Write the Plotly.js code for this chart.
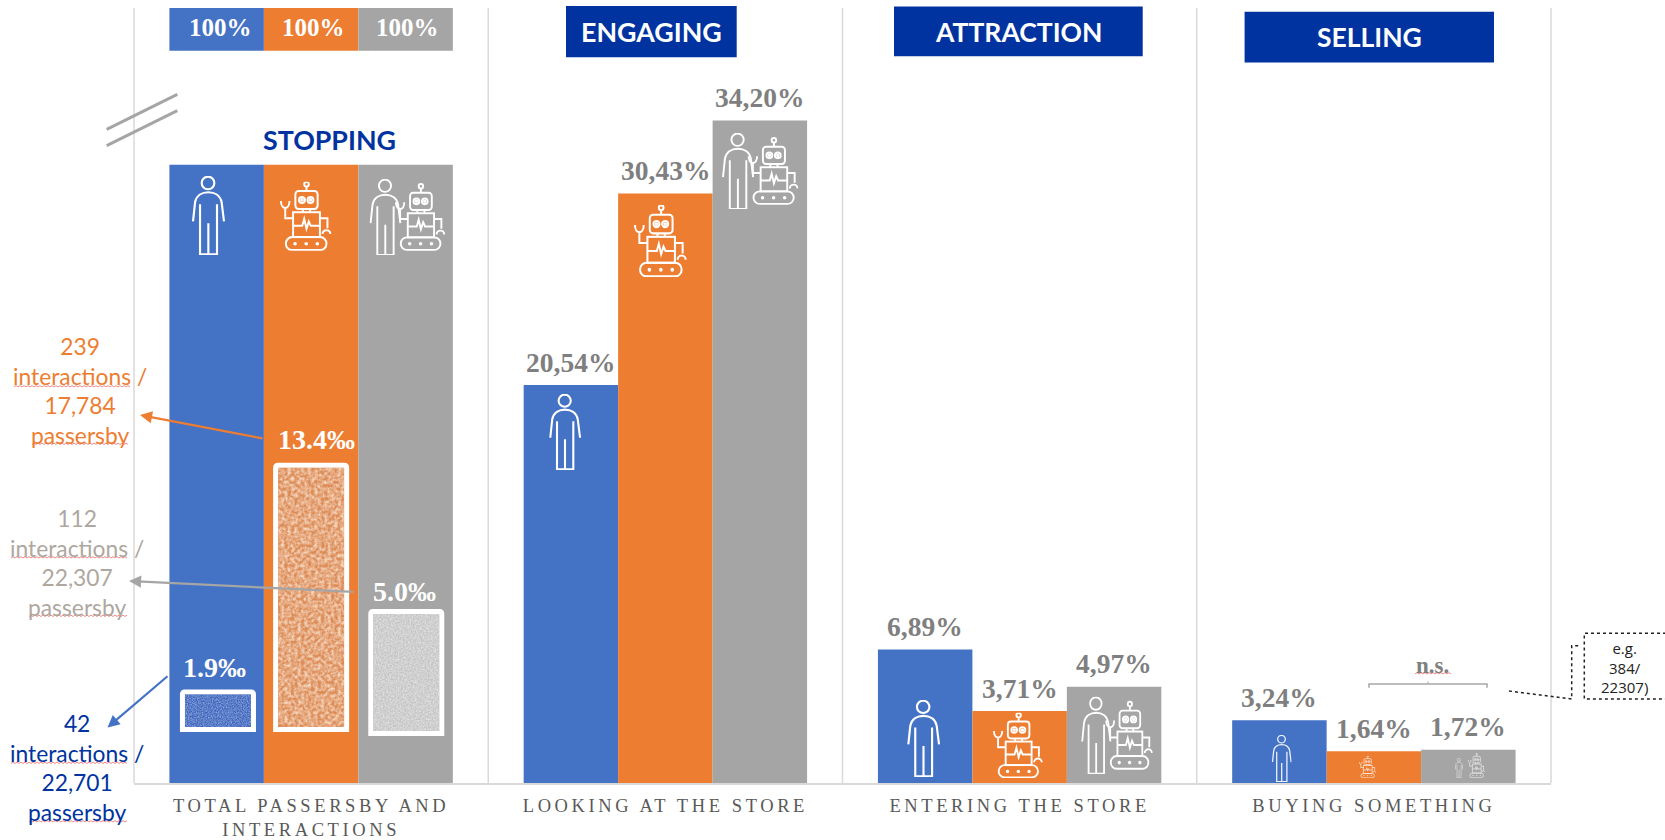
<!DOCTYPE html>
<html>
<head>
<meta charset="utf-8">
<script src="https://cdn.plot.ly/plotly-3.0.1.min.js"></script>
<style>
  html, body { margin: 0; padding: 0; background: #fff; overflow: hidden; }
  #chart { width: 1665px; height: 840px; }
  .xtick text { letter-spacing: 3.6px; }
</style>
</head>
<body>
<div id="chart"></div>
<script>
// Funnel stages and the share of each group reaching them (percent).
const stages = ['TOTAL PASSERSBY AND<br>INTERACTIONS', 'LOOKING AT THE STORE', 'ENTERING THE STORE', 'BUYING SOMETHING'];
const humanShare = [100, 20.54, 6.89, 3.24];
const robotShare = [100, 30.43, 3.71, 1.64];
const mixedShare = [100, 34.20, 4.97, 1.72];

// Interaction rates per thousand passersby.
const humanRate = 1.9;
const robotRate = 13.4;
const mixedRate = 5.0;

const humanNote = '42<br>interactions /<br>22,701<br>passersby';
const robotNote = '239<br>interactions /<br>17,784<br>passersby';
const mixedNote = '112<br>interactions /<br>22,307<br>passersby';
const calloutText = 'e.g.<br>384/<br>22307)';

const BLUE = '#4472C4', ORANGE = '#ED7D31', GREY = '#A5A5A5', NAVY = '#0033A0';
const SERIF = '"Liberation Serif", "Times New Roman", serif';
const SANS = 'Lato, "Open Sans", sans-serif';

// Plot frame in page pixels.
const W = 1665, H = 840, L = 134, R = 114, T = 8, B = 57;
const plotW = W - L - R, plotH = H - T - B;
const px = x => (x - L) / plotW;
const py = y => (H - B - y) / plotH;
const stageW = plotW / 4;
const stageX = x => (x - L) / stageW - 0.5;

// Line icons, white on the bars.
const personSvg = `<circle cx="49" cy="21" r="19"/><path d="M25 85V236H76V85M50 142V236M4 137L10 80C14 58 32 49 50 49S86 58 90 80L97 137"/>`;
const robotSvg = `<circle cx="81" cy="8" r="7"/><path d="M81 15V28M70 82V92M92 82V92"/><rect x="47" y="28" width="68" height="54" rx="10"/><circle cx="67" cy="55" r="9"/><circle cx="93" cy="55" r="9"/><circle cx="67" cy="55" r="2.5"/><circle cx="93" cy="55" r="2.5"/><rect x="40" y="92" width="82" height="75"/><path d="M40 133H68L74 112L81 142L88 120L94 133H122M40 110H16V80M3 58C3 86 29 86 29 58M122 110H145V140M130 158A12 12 0 1 1 154 158"/><rect x="18" y="167" width="124" height="39" rx="19"/><circle cx="46" cy="187" r="2.5" fill="#fff"/><circle cx="80" cy="187" r="2.5" fill="#fff"/><circle cx="114" cy="187" r="2.5" fill="#fff"/>`;
const comboSvg = `<g transform="scale(.96)">${personSvg}</g><g transform="translate(77 14) scale(.96)">${robotSvg}</g>`;

function svgUri(body, vw, vh, sw) {
  const s = `<svg xmlns="http://www.w3.org/2000/svg" width="${vw}" height="${vh}" viewBox="0 0 ${vw} ${vh}" preserveAspectRatio="none"><g fill="none" stroke="#fff" stroke-width="${sw}">${body}</g></svg>`;
  return 'data:image/svg+xml,' + encodeURIComponent(s);
}

// Soft mottled fill for the rate boxes.
function noiseUri(w, h, base, speck, freq, gain, blur) {
  const c = speck.map(v => (v / 255).toFixed(3));
  const s = `<svg xmlns="http://www.w3.org/2000/svg" width="${w}" height="${h}" viewBox="0 0 ${w} ${h}"><filter id="n" x="0" y="0" width="100%" height="100%"><feTurbulence type="fractalNoise" baseFrequency="${freq}" numOctaves="2" seed="4"/><feColorMatrix values="0 0 0 0 ${c[0]} 0 0 0 0 ${c[1]} 0 0 0 0 ${c[2]} ${gain} 0 0 0 ${-gain * 0.3}"/><feGaussianBlur stdDeviation="${blur}"/></filter><rect width="${w}" height="${h}" fill="${base}"/><rect width="${w}" height="${h}" filter="url(#n)"/></svg>`;
  return 'data:image/svg+xml,' + encodeURIComponent(s);
}

function icon(source, x0, y0, x1, y1, opacity) {
  return { source, xref: 'paper', yref: 'paper', x: px(x0), y: py(y0), sizex: (x1 - x0) / plotW, sizey: (y1 - y0) / plotH,
           xanchor: 'left', yanchor: 'top', sizing: 'stretch', layer: 'above', opacity: opacity === undefined ? 1 : opacity };
}

const PERSON = sw => svgUri(personSvg, 100, 238, sw);
const ROBOT = sw => svgUri(robotSvg, 158, 208, sw);
const COMBO = sw => svgUri(comboSvg, 227, 227, sw);

// Inset rates: blue and orange share one hidden axis, the grey box has its own.
const RATE_SCALE = 19.72, RATE_ZERO = 729.5;
const MIXED_SCALE = 24.4, MIXED_ZERO = 733.5;
const boxCentres = [-0.263, 0, 0.2686];
const boxWidth = 71 / stageW;

function insetNoise(cx, value, scale, zero, base, speck, freq, gain, blur) {
  const cpx = L + (cx + 0.5) * stageW, half = 33, top = zero - value * scale + 2.5, bottom = zero - 2.5;
  return icon(noiseUri(2 * half, Math.round(bottom - top), base, speck, freq, gain, blur), cpx - half, top, cpx + half, bottom);
}

const mainTrace = (y, color) => ({ type: 'bar', x: [0, 1, 2, 3], y, marker: { color, line: { width: 0 } }, hoverinfo: 'skip' });

const traces = [
  mainTrace(humanShare, BLUE),
  mainTrace(robotShare, ORANGE),
  mainTrace(mixedShare, GREY),
  { type: 'bar', x: boxCentres.slice(0, 2), y: [humanRate, robotRate], yaxis: 'y2', width: boxWidth,
    marker: { color: ['#3F63B8', '#D98A55'], line: { color: '#fff', width: 5 }, cornerradius: 2 }, hoverinfo: 'skip' },
  { type: 'bar', x: [boxCentres[2]], y: [mixedRate], yaxis: 'y3', width: boxWidth,
    marker: { color: '#BDBDBD', line: { color: '#fff', width: 5 }, cornerradius: 2 }, hoverinfo: 'skip' }
];

// Shapes are given in page pixels and converted to paper coordinates.
function pagePath(points, color, width, dash) {
  const d = points.map((p, i) => (i ? 'L' : 'M') + px(p[0]).toFixed(5) + ',' + py(p[1]).toFixed(5)).join(' ');
  return { type: 'path', xref: 'paper', yref: 'paper', path: d, line: { color, width, dash: dash || 'solid' } };
}
function wave(x0, x1, y) {
  const pts = []; let up = false;
  for (let x = x0; x <= x1; x += 2) { pts.push([x, up ? y - 1.4 : y]); up = !up; }
  return pagePath(pts, '#EE6B6B', 0.8);
}
function pageRect(x0, y0, x1, y1, color) {
  return { type: 'rect', xref: 'paper', yref: 'paper', x0: px(x0), x1: px(x1), y0: py(y0), y1: py(y1), fillcolor: color, line: { width: 0 } };
}

const shapes = [
  // Axis break through the 100% bars.
  { type: 'rect', xref: 'x', yref: 'y', x0: stageX(165), x1: stageX(458), y0: (H - B - 164.7) / (plotH / 40), y1: (H - B - 50.7) / (plotH / 40), fillcolor: '#fff', line: { width: 0 }, layer: 'above' },
  pagePath([[106.7, 129.3], [177.3, 94.3]], GREY, 3),
  pagePath([[106.7, 145.7], [177.3, 110.7]], GREY, 3),
  // Stage headers.
  pageRect(566, 6, 736.7, 57.3, NAVY),
  pageRect(894, 6.4, 1142.7, 56.3, NAVY),
  pageRect(1244.6, 11.7, 1494, 62.6, NAVY),
  // n.s. bracket.
  pagePath([[1369, 687.7], [1369, 684], [1487, 684], [1487, 687.7]], '#A6A6A6', 1.5),
  pagePath([[1428, 684], [1428, 681.5]], '#A6A6A6', 1),
  // Dotted callout and its leader.
  pagePath([[1666, 633.3], [1584.3, 633.3], [1584.3, 699], [1666, 699]], '#222', 1.5, 'dot'),
  pagePath([[1509, 691], [1571.7, 699], [1571.7, 645.7], [1579, 645.7]], '#222', 1.5, 'dot'),
  // Spell-check underlines.
  wave(14, 131, 387), wave(32, 129, 444.5),
  wave(11, 128, 558), wave(29, 127, 616.5),
  wave(11, 128, 763.5), wave(29, 127, 822),
  wave(1415, 1451, 674)
];
// Stage separators.
[0, 1, 2, 3, 4].forEach(i => shapes.unshift({ type: 'line', xref: 'paper', yref: 'paper', x0: i / 4, x1: i / 4, y0: 0, y1: 1, line: { color: '#D9D9D9', width: 1.5 }, layer: 'below' }));

const images = [
  icon(PERSON(6.5), 191.7, 176, 225, 255),
  icon(ROBOT(6), 280, 181.7, 331.7, 250.7),
  icon(COMBO(6), 369.3, 179, 445, 255),
  icon(PERSON(6.5), 549, 394, 581, 470),
  icon(ROBOT(6), 634, 205, 687, 277),
  icon(COMBO(6), 721.7, 133, 798.3, 209),
  icon(PERSON(6.5), 907, 700, 940, 777),
  icon(ROBOT(6), 993, 712.7, 1043, 778),
  icon(COMBO(6), 1081, 696.7, 1152.7, 774),
  icon(PERSON(6.5), 1271.7, 735, 1291.7, 782, 0.9),
  icon(ROBOT(7), 1359, 755.7, 1376, 778, 0.8),
  icon(PERSON(9), 1455, 758, 1463, 778, 0.6),
  icon(ROBOT(7), 1468, 753, 1485, 778, 0.7),
  insetNoise(boxCentres[0], humanRate, RATE_SCALE, RATE_ZERO, '#4063BE', [80, 118, 188], 0.8, 1.6, 0.3),
  insetNoise(boxCentres[1], robotRate, RATE_SCALE, RATE_ZERO, '#DC8B55', [238, 182, 145], 0.3, 1.9, 0.5),
  insetNoise(boxCentres[2], mixedRate, MIXED_SCALE, MIXED_ZERO, '#C4C4C4', [208, 208, 208], 0.6, 1.6, 0.4)
];

const share = v => v.toFixed(2).replace('.', ',') + '%';
const rate = v => v.toFixed(1) + '‰';

function pageText(text, x, y, size, color, family, bold, extra) {
  return Object.assign({ text, xref: 'paper', yref: 'paper', x: px(x), y: py(y), xanchor: 'center', yanchor: 'middle', showarrow: false,
    font: { family, size, color, weight: bold ? 700 : 400 }, align: 'center' }, extra || {});
}
function arrow(x0, y0, x1, y1, color) {
  return { text: '', xref: 'paper', yref: 'paper', x: px(x1), y: py(y1), ax: x0 - x1, ay: y0 - y1, showarrow: true,
    arrowhead: 2, arrowsize: 1.1, arrowwidth: 2.2, arrowcolor: color, standoff: 0 };
}

const annotations = [];
// Share labels above the bars, from the second stage on.
[[humanShare, -0.2667], [robotShare, 0], [mixedShare, 0.2667]].forEach(([vals, dx]) => {
  vals.forEach((v, i) => {
    if (i === 0) return;
    annotations.push({ text: share(v), xref: 'x', yref: 'y', x: i + dx, y: v, yanchor: 'middle', xanchor: 'center', yshift: 23, showarrow: false,
      font: { family: SERIF, size: 27.5, color: '#7F7F7F', weight: 700 } });
  });
});
annotations.push(
  pageText(humanShare[0] + '%', 220, 27, 25, '#fff', SERIF, true),
  pageText(robotShare[0] + '%', 313, 27, 25, '#fff', SERIF, true),
  pageText(mixedShare[0] + '%', 407, 27, 25, '#fff', SERIF, true),
  pageText(rate(humanRate), 214.5, 667, 28, '#fff', SERIF, true),
  pageText(rate(robotRate), 316.8, 439, 28, '#fff', SERIF, true),
  pageText(rate(mixedRate), 404, 591, 28, '#fff', SERIF, true),
  pageText('STOPPING', 329, 140, 26.8, NAVY, SANS, true),
  pageText('ENGAGING', 651, 32, 26.8, '#fff', SANS, true),
  pageText('ATTRACTION', 1018, 32, 26.5, '#fff', SANS, true),
  pageText('SELLING', 1369, 37, 26.5, '#fff', SANS, true),
  pageText(robotNote, 80, 390.3, 22.8, ORANGE, SANS, false),
  pageText(mixedNote, 77, 562.3, 22.8, '#AEA79F', SANS, false),
  pageText(humanNote, 77, 767, 22.8, NAVY, SANS, false),
  pageText('n.s.', 1432.7, 665, 23, '#7F7F7F', SERIF, true),
  pageText(calloutText, 1625, 667, 15, '#222', '"Open Sans", sans-serif', false),
  arrow(264, 438.7, 140, 415, ORANGE),
  arrow(355, 592, 129, 581, GREY),
  arrow(169, 675, 107.5, 727.5, BLUE)
);

const hiddenAxis = range => ({ overlaying: 'y', visible: false, range, fixedrange: true });

const layout = {
  width: W, height: H, autosize: false,
  margin: { l: L, r: R, t: T, b: B, pad: 0 },
  paper_bgcolor: '#fff', plot_bgcolor: '#fff',
  showlegend: false,
  barmode: 'group', bargap: 0.2, bargroupgap: 0,
  xaxis: { range: [-0.5, 3.5], tickmode: 'array', tickvals: [0, 1, 2, 3], ticktext: stages, tickangle: 0,
    showgrid: false, zeroline: false, showline: true, linecolor: '#D9D9D9', linewidth: 1.5,
    ticks: 'outside', ticklen: 5, tickcolor: 'rgba(0,0,0,0)',
    tickfont: { family: SERIF, size: 18.5, color: '#595959' }, fixedrange: true },
  yaxis: { range: [0, 40], visible: false, fixedrange: true },
  yaxis2: hiddenAxis([-(H - B - RATE_ZERO) / RATE_SCALE, (RATE_ZERO - T) / RATE_SCALE]),
  yaxis3: hiddenAxis([-(H - B - MIXED_ZERO) / MIXED_SCALE, (MIXED_ZERO - T) / MIXED_SCALE]),
  shapes, images, annotations
};

Plotly.newPlot('chart', traces, layout, { displayModeBar: false, staticPlot: true });
</script>
</body>
</html>
